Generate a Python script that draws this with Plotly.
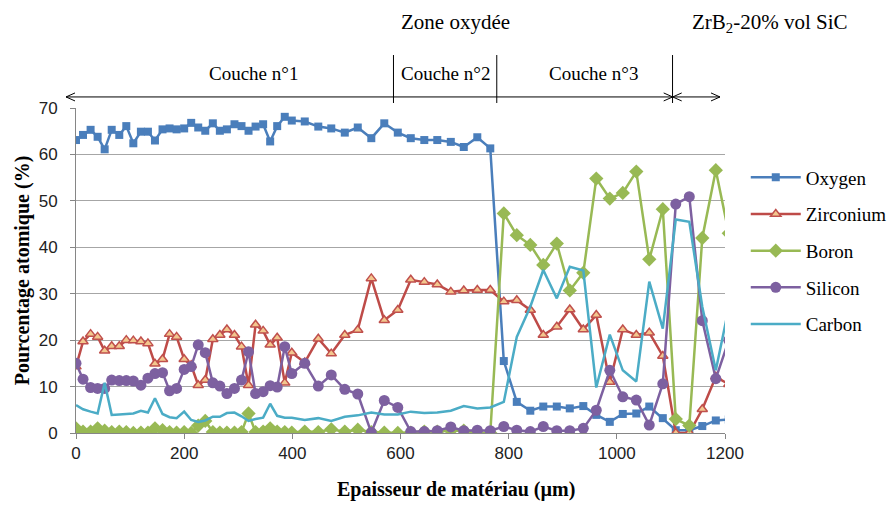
import plotly.graph_objects as go

# Depth positions (µm)
x_um = [0, 13, 27, 40, 53, 66, 80, 93, 106, 120, 133, 146, 160, 173, 186, 200,
        213, 226, 239, 253, 266, 279, 293, 306, 319, 332, 346, 359, 372, 386, 399,
        423, 448, 472, 497, 521, 546, 570, 595, 619, 644, 668, 693, 717, 742, 766,
        791, 815, 840, 864, 889, 913, 938, 962, 987, 1011, 1036, 1060, 1085, 1109,
        1134, 1158, 1183, 1207]

oxygen = [63.1, 64.2, 65.3, 63.8, 61.1, 65.3, 64.2, 66.1, 62.4, 64.9, 64.9, 63.0, 65.4,
          65.6, 65.4, 65.6, 66.8, 65.8, 65.1, 66.7, 65.1, 65.4, 66.5, 66.1, 65.1, 66.0,
          66.5, 62.8, 66.1, 68.1, 67.3,
          67.1, 66.0, 65.6, 64.7, 65.8, 63.5, 66.7, 64.7, 63.5, 63.1, 63.1, 62.7, 61.6,
          63.7, 61.3, 15.5, 6.7, 4.8, 5.7, 5.7, 5.3, 5.8, 3.9, 2.4, 4.1, 4.2, 5.7, 3.2,
          0.6, 0.6, 1.5, 2.7, 2.9]

zirconium = [14.3, 19.7, 21.3, 20.7, 17.7, 18.7, 18.7, 20.0, 19.9, 19.7, 19.3, 14.9, 15.9,
             21.3, 20.7, 15.9, 14.6, 10.3, 11.4, 20.2, 21.1, 22.3, 21.1, 18.6, 10.3, 23.3,
             22.0, 19.0, 20.5, 10.8, 17.3,
             15.2, 20.3, 17.1, 21.1, 22.2, 33.3, 24.3, 26.5, 33.0, 32.5, 32.0, 30.4, 30.7,
             30.8, 30.8, 28.3, 28.6, 26.5, 21.1, 22.9, 26.6, 22.3, 25.4, 11.0, 22.3, 21.1,
             21.6, 16.6, 0.0, 0.0, 5.1, 12.1, 10.5]

boron = [1.0, 0.3, 0.3, 1.0, 0.5, 0.2, 0.3, 0.2, 0.0, 0.1, 0.1, 1.0, 0.6, 0.2, 0.1, 0.2,
         0.0, 1.6, 2.6, 0.2, 0.1, 0.1, 0.1, 0.2, 4.2, 0.2, 0.3, 1.0, 0.3, 0.2, 0.1,
         0.3, 0.2, 0.8, 0.3, 0.7, 0.2, 0.1, 0.0, 0.1, 0.3, 0.3, 0.5, 0.5, 0.0, 0.0,
         47.3, 42.6, 40.5, 36.2, 40.8, 30.7, 34.5, 54.8, 50.5, 51.7, 56.3, 37.4, 48.2,
         3.0, 1.6, 42.0, 56.6, 43.0]

silicon = [15.0, 11.6, 9.8, 9.6, 9.6, 11.4, 11.3, 11.3, 11.2, 10.3, 11.8, 12.8, 13.0, 9.1,
           9.6, 13.7, 14.3, 19.0, 17.3, 10.8, 10.1, 8.5, 9.6, 11.4, 17.5, 8.5, 8.9, 10.2,
           9.9, 18.6, 12.8,
           15.0, 10.1, 12.5, 9.4, 8.4, 0.1, 7.0, 5.5, 0.3, 0.3, 0.5, 1.3, 0.5, 0.6, 0.5,
           1.4, 0.6, 0.3, 1.4, 0.5, 0.5, 1.0, 4.9, 13.5, 7.8, 7.1, 1.7, 10.6, 49.3, 50.9,
           24.2, 11.7, 20.0]

carbon = [6.0, 5.1, 4.6, 4.2, 10.8, 3.9, 4.0, 4.1, 4.2, 4.8, 4.4, 7.5, 4.1, 3.4, 3.2, 4.6,
          2.8, 2.4, 2.7, 3.5, 3.5, 4.3, 4.4, 3.6, 2.6, 3.0, 3.3, 6.3, 3.7, 3.3, 3.3,
          2.8, 3.2, 2.6, 3.5, 3.8, 4.4, 4.0, 4.0, 4.6, 4.3, 4.4, 4.8, 5.8, 5.3, 5.5,
          6.7, 20.7, 27.2, 35.1, 29.0, 35.8, 35.0, 9.8, 21.2, 13.5, 11.1, 32.6, 22.5,
          46.0, 45.5, 27.2, 13.5, 27.0]

x_ticks = [0, 200, 400, 600, 800, 1000, 1200]
y_ticks = [0, 10, 20, 30, 40, 50, 60, 70]

# Layer boundaries (µm) and labels
boundaries = [587, 778, 1103]
layer_labels = ["Couche n°1", "Couche n°2", "Couche n°3"]
layer_centers = [329, 684, 956]

SERIF = "Liberation Serif, Times New Roman, serif"
NARROW = "Liberation Sans Narrow, Arial Narrow, Liberation Sans, sans-serif"

fig = go.Figure()

styles = [
    ("Oxygen", oxygen, "#4A7EBB", dict(symbol="square", size=8, color="#4A7EBB")),
    ("Zirconium", zirconium, "#BE4B48",
     dict(symbol="triangle-up", size=9, color="#F3C78E", line=dict(color="#C0504D", width=1.5))),
    ("Boron", boron, "#98B954", dict(symbol="diamond", size=11, color="#98B954")),
    ("Silicon", silicon, "#7D60A0", dict(symbol="circle", size=11, color="#7D60A0")),
]
for name, vals, col, mk in styles:
    fig.add_trace(go.Scatter(x=x_um, y=vals, name=name, mode="lines+markers",
                             line=dict(color=col, width=2.5), marker=mk,
                             legendgroup=name))
fig.add_trace(go.Scatter(x=x_um, y=carbon, name="Carbon", mode="lines",
                         line=dict(color="#4BACC6", width=2.5), legendgroup="Carbon"))

annotations = []
for lab, c in zip(layer_labels, layer_centers):
    annotations.append(dict(x=c, xref="x", y=1.105, yref="paper", text=lab, showarrow=False,
                            font=dict(family=SERIF, size=19, color="black"),
                            xanchor="center", yanchor="middle"))
annotations.append(dict(x=0.585, xref="paper", y=1.305, yref="paper", text="Zone oxydée",
                        showarrow=False, font=dict(family=SERIF, size=21, color="black"),
                        xanchor="center", yanchor="top", borderpad=0))
annotations.append(dict(x=1.069, xref="paper", y=1.305, yref="paper",
                        text="ZrB<sub>2</sub>-20% vol SiC",
                        showarrow=False, font=dict(family=SERIF, size=21, color="black"),
                        xanchor="center", yanchor="top", borderpad=0))
# x-axis title (centred over the whole chart, as in the reference)
annotations.append(dict(x=0.585, xref="paper", y=-0.175, yref="paper",
                        text="<b>Epaisseur de matériau (µm)</b>", showarrow=False,
                        font=dict(family=SERIF, size=20, color="black"),
                        xanchor="center", yanchor="middle"))

ARROW_Y = 1.034
x_left, x_split, x_right = -0.0154, 0.9194, 0.9923
blk = dict(color="black", width=1)
shapes = [dict(type="line", xref="x", yref="paper", x0=b, x1=b, y0=1.0154, y1=1.163,
               line=blk) for b in boundaries]
shapes.append(dict(type="line", xref="paper", yref="paper", x0=x_left, x1=x_right,
                   y0=ARROW_Y, y1=ARROW_Y, line=blk))
left_head = "M 9,4 L 0,0 L 9,-4"
right_head = "M -9,4 L 0,0 L -9,-4"
for xa, p in [(x_left, left_head), (x_split, right_head), (x_split, left_head),
              (x_right, right_head)]:
    shapes.append(dict(type="path", xref="paper", yref="paper", xsizemode="pixel",
                       ysizemode="pixel", xanchor=xa, yanchor=ARROW_Y, path=p, line=blk))

# page body has an 8px margin, so the figure is shrunk and offset accordingly
fig.update_layout(
    width=887, height=502,
    margin=dict(l=68, r=170, t=100, b=77, autoexpand=False),
    paper_bgcolor="white", plot_bgcolor="white",
    showlegend=True,
    legend=dict(x=1.032, xanchor="left", y=0.845, yanchor="top",
                font=dict(family=SERIF, size=19, color="black"),
                tracegroupgap=9, bgcolor="rgba(0,0,0,0)", itemwidth=50),
    xaxis=dict(range=[0, 1200], tickvals=x_ticks, showgrid=False, zeroline=False,
               showline=True, linecolor="#868686", linewidth=1, ticks="outside",
               ticklen=5, tickcolor="#868686",
               tickfont=dict(family=NARROW, size=17, color="#222")),
    yaxis=dict(range=[0, 70], tickvals=y_ticks, showgrid=True, gridcolor="#A6A6A6",
               gridwidth=1, zeroline=False, showline=True, linecolor="#868686",
               linewidth=1, ticks="outside", ticklen=5, tickcolor="#868686",
               ticklabelstandoff=9,
               tickfont=dict(family=NARROW, size=17, color="#222"),
               title=dict(text="<b>Pourcentage atomique (%)</b>", standoff=3,
                          font=dict(family=SERIF, size=20, color="black"))),
    annotations=annotations, shapes=shapes,
)

fig.write_html("out.html")
